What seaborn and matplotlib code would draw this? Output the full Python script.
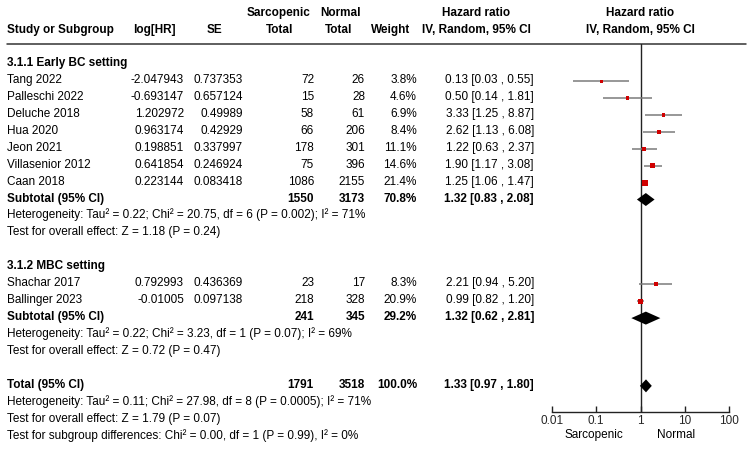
import numpy as np
import pandas as pd
import matplotlib
matplotlib.use("Agg")
import matplotlib.pyplot as plt
import seaborn as sns

# study data
studies = ["Tang 2022", "Palleschi 2022", "Deluche 2018", "Hua 2020", "Jeon 2021",
           "Villasenior 2012", "Caan 2018", "Shachar 2017", "Ballinger 2023"]
log_hr = ["-2.047943", "-0.693147", "1.202972", "0.963174", "0.198851",
          "0.641854", "0.223144", "0.792993", "-0.01005"]
se = ["0.737353", "0.657124", "0.49989", "0.42929", "0.337997",
      "0.246924", "0.083418", "0.436369", "0.097138"]
sarc_total = [72, 15, 58, 66, 178, 75, 1086, 23, 218]
normal_total = [26, 28, 61, 206, 301, 396, 2155, 17, 328]
weight = [3.8, 4.6, 6.9, 8.4, 11.1, 14.6, 21.4, 8.3, 20.9]
hr = [0.13, 0.50, 3.33, 2.62, 1.22, 1.90, 1.25, 2.21, 0.99]
hr_lo = [0.03, 0.14, 1.25, 1.13, 0.63, 1.17, 1.06, 0.94, 0.82]
hr_hi = [0.55, 1.81, 8.87, 6.08, 2.37, 3.08, 1.47, 5.20, 1.20]
group = [1, 1, 1, 1, 1, 1, 1, 2, 2]

# pooled estimates: subgroup 1, subgroup 2, overall
pooled_names = ["Subtotal (95% CI)", "Subtotal (95% CI)", "Total (95% CI)"]
pooled_sarc = [1550, 241, 1791]
pooled_norm = [3173, 345, 3518]
pooled_weight = [70.8, 29.2, 100.0]
pooled_hr = [1.32, 1.32, 1.33]
pooled_lo = [0.83, 0.62, 0.97]
pooled_hi = [2.08, 2.81, 1.80]

group_titles = ["3.1.1 Early BC setting", "3.1.2 MBC setting"]
het_text = [
    "Heterogeneity: Tau² = 0.22; Chi² = 20.75, df = 6 (P = 0.002); I² = 71%",
    "Heterogeneity: Tau² = 0.22; Chi² = 3.23, df = 1 (P = 0.07); I² = 69%",
    "Heterogeneity: Tau² = 0.11; Chi² = 27.98, df = 8 (P = 0.0005); I² = 71%",
]
effect_text = [
    "Test for overall effect: Z = 1.18 (P = 0.24)",
    "Test for overall effect: Z = 0.72 (P = 0.47)",
    "Test for overall effect: Z = 1.79 (P = 0.07)",
]
subgroup_diff = "Test for subgroup differences: Chi² = 0.00, df = 1 (P = 0.99), I² = 0%"
tick_values = [0.01, 0.1, 1, 10, 100]
tick_labels = ["0.01", "0.1", "1", "10", "100"]

sns.set_style("white")
plt.rcParams["font.family"] = ["Liberation Sans", "DejaVu Sans"]
FS = 8.5
W, H = 753, 452

fig = plt.figure(figsize=(W / 100, H / 100), dpi=100)
ax = fig.add_axes([0, 0, 1, 1])
ax.set_xlim(0, W)
ax.set_ylim(H, 0)
ax.axis("off")

# forest panel, y in same pixel units as the text
FX0, FX1, FY0, FY1 = 552, 729, 45, 412.7
fax = fig.add_axes([FX0 / W, 1 - FY1 / H, (FX1 - FX0) / W, (FY1 - FY0) / H])
fax.set_facecolor("none")
fax.set_xscale("log")
fax.set_xlim(0.01, 100)
fax.set_ylim(FY1, FY0)

ROW0, STEP = 66.0, 16.94


def row_y(i):
    return ROW0 + STEP * i


def txt(x, y, s, ha="left", bold=False):
    ax.text(x, y, s, ha=ha, va="baseline", fontsize=FS,
            fontweight="bold" if bold else "normal", color="black")


# header
txt(7, 33, "Study or Subgroup", bold=True)
txt(154, 33, "log[HR]", ha="center", bold=True)
txt(214, 33, "SE", ha="center", bold=True)
txt(279, 16, "Sarcopenic", ha="center", bold=True)
txt(280, 33, "Total", ha="center", bold=True)
txt(341, 16, "Normal", ha="center", bold=True)
txt(339, 33, "Total", ha="center", bold=True)
txt(391, 33, "Weight", ha="center", bold=True)
txt(476, 16, "Hazard ratio", ha="center", bold=True)
txt(476, 33, "IV, Random, 95% CI", ha="center", bold=True)
txt(640, 16, "Hazard ratio", ha="center", bold=True)
txt(640, 33, "IV, Random, 95% CI", ha="center", bold=True)
ax.plot([7, 746], [45, 45], color="#333333", lw=1.1)

study_rows = []
pooled_rows = []
r = 0
for g in (1, 2):
    txt(7, row_y(r), group_titles[g - 1], bold=True)
    r += 1
    for k in [k for k in range(len(studies)) if group[k] == g]:
        y = row_y(r)
        txt(7, y, studies[k])
        txt(184, y, log_hr[k], ha="right")
        txt(243, y, se[k], ha="right")
        txt(314, y, str(sarc_total[k]), ha="right")
        txt(365, y, str(normal_total[k]), ha="right")
        txt(417, y, f"{weight[k]:.1f}%", ha="right")
        txt(534, y, f"{hr[k]:.2f} [{hr_lo[k]:.2f} , {hr_hi[k]:.2f}]", ha="right")
        study_rows.append(y)
        r += 1
    pooled_rows.append(row_y(r))
    r += 1
    txt(7, row_y(r), het_text[g - 1])
    r += 1
    txt(7, row_y(r), effect_text[g - 1])
    r += 2

pooled_rows.append(row_y(r))
r += 1
txt(7, row_y(r), het_text[2])
txt(7, row_y(r + 1), effect_text[2])
txt(7, row_y(r + 2), subgroup_diff)

for j, y in enumerate(pooled_rows):
    txt(7, y, pooled_names[j], bold=True)
    txt(314, y, str(pooled_sarc[j]), ha="right", bold=True)
    txt(365, y, str(pooled_norm[j]), ha="right", bold=True)
    txt(417, y, f"{pooled_weight[j]:.1f}%", ha="right", bold=True)
    txt(534, y, f"{pooled_hr[j]:.2f} [{pooled_lo[j]:.2f} , {pooled_hi[j]:.2f}]",
        ha="right", bold=True)

# forest marks
fax.axvline(1, color="#222222", lw=1.0, zorder=1)
mark_y = [y - 0.8 for y in study_rows]
fax.hlines(mark_y, hr_lo, hr_hi, color="#7a7a7a", lw=1.1, zorder=2)
df = pd.DataFrame({"hr": hr, "y": mark_y, "weight": weight})
sns.scatterplot(data=df, x="hr", y="y", size="weight", sizes=(5, 16),
                marker="s", color="#d00000", edgecolor="none", linewidth=0,
                legend=False, ax=fax, zorder=3)
for j, y in enumerate(pooled_rows):
    yc = y - 1.0
    fax.fill([pooled_lo[j], pooled_hr[j], pooled_hi[j], pooled_hr[j]],
             [yc, yc - 6.5, yc, yc + 6.5], color="black", lw=0, zorder=4)

for side in ("top", "left", "right"):
    fax.spines[side].set_visible(False)
fax.spines["bottom"].set_color("#222222")
fax.spines["bottom"].set_linewidth(1.0)
fax.set_yticks([])
fax.set_xticks(tick_values)
fax.set_xticklabels(tick_labels)
fax.xaxis.set_minor_locator(matplotlib.ticker.NullLocator())
fax.tick_params(axis="x", direction="in", length=4, width=1.0, color="#222222",
                pad=2, labelsize=FS, bottom=True)
fax.set_xlabel("")
fax.set_ylabel("")

txt(594, 438.5, "Sarcopenic", ha="center")
txt(676, 438.5, "Normal", ha="center")

fig.savefig("out.png", dpi=100)
